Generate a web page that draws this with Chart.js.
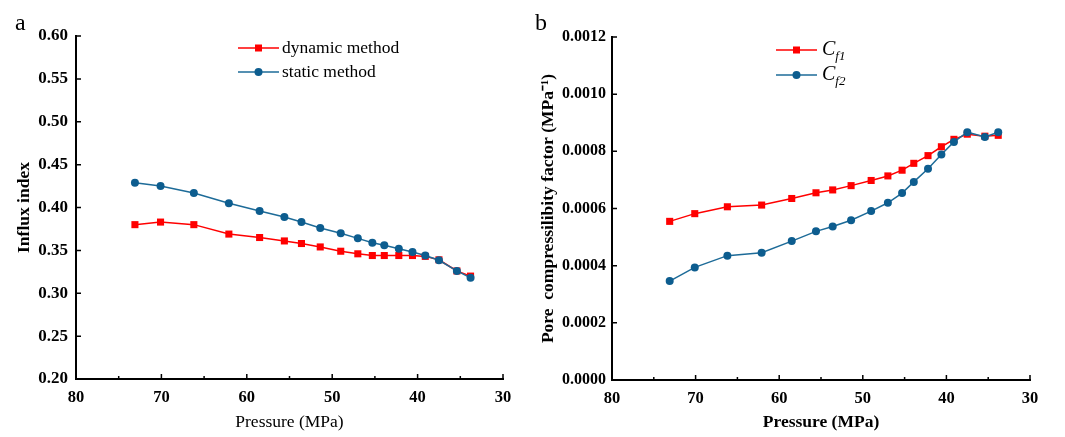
<!DOCTYPE html>
<html>
<head>
<meta charset="utf-8">
<script src="https://cdn.jsdelivr.net/npm/chart.js@4"></script>
<style>
  body { margin:0; background:#fff; }
  #wrap { position:relative; width:1065px; height:437px; }
  canvas { position:absolute; top:0; }
</style>
</head>
<body>
<div id="wrap">
  <canvas id="chartA" width="530" height="437" style="left:0"></canvas>
  <canvas id="chartB" width="535" height="437" style="left:530px"></canvas>
</div>
<script>
// data
const pressure = [73.1, 70.1, 66.2, 62.1, 58.5, 55.6, 53.6, 51.4, 49.0, 47.0, 45.3, 43.9, 42.2, 40.6, 39.1, 37.5, 35.4, 33.8];
const dynamicIdx = [0.380, 0.383, 0.380, 0.369, 0.365, 0.361, 0.358, 0.354, 0.349, 0.346, 0.344, 0.344, 0.344, 0.344, 0.343, 0.339, 0.326, 0.320];
const staticIdx = [0.429, 0.425, 0.417, 0.405, 0.396, 0.389, 0.383, 0.376, 0.370, 0.364, 0.359, 0.356, 0.352, 0.348, 0.344, 0.3385, 0.326, 0.318];
const cf1 = [0.000555, 0.000582, 0.000606, 0.000612, 0.000635, 0.000655, 0.000665, 0.000680, 0.000698, 0.000714, 0.000734, 0.000758, 0.000785, 0.000816, 0.000842, 0.000860, 0.000853, 0.000856];
const cf2 = [0.000346, 0.000394, 0.000435, 0.000445, 0.000486, 0.000520, 0.000537, 0.000559, 0.000591, 0.000620, 0.000654, 0.000693, 0.000739, 0.000789, 0.000833, 0.000867, 0.000850, 0.000867];
const xMinorTicks = [75, 65, 55, 45, 35];

const RED = '#ff0000';
const BLUE = '#1d6b98';
const BLUE_PT = '#0d5d8f';
const SERIF = '"Liberation Serif", "Times New Roman", serif';

const pts = ys => pressure.map((x, i) => ({ x: x, y: ys[i] }));

// inward ticks, legend, panel letter
const decor = {
  id: 'decor',
  afterDraw(chart, args, o) {
    const ctx = chart.ctx;
    const xs = chart.scales.x, ys = chart.scales.y;
    const ca = chart.chartArea;
    ctx.save();
    ctx.strokeStyle = '#000';
    ctx.lineWidth = 1.5;
    ctx.beginPath();
    xs.ticks.forEach(t => {
      const px = xs.getPixelForValue(t.value);
      ctx.moveTo(px, ca.bottom); ctx.lineTo(px, ca.bottom - 5);
    });
    xMinorTicks.forEach(v => {
      const px = xs.getPixelForValue(v);
      ctx.moveTo(px, ca.bottom); ctx.lineTo(px, ca.bottom - 3);
    });
    ys.ticks.forEach(t => {
      const py = ys.getPixelForValue(t.value);
      ctx.moveTo(ca.left, py); ctx.lineTo(ca.left + 5, py);
    });
    ctx.stroke();

    // panel letter
    ctx.fillStyle = '#000';
    ctx.font = '24px ' + SERIF;
    ctx.textBaseline = 'alphabetic';
    ctx.textAlign = 'left';
    ctx.fillText(o.letter, o.letterX, 30);

    // legend
    o.items.forEach((it, i) => {
      const y = o.legendY[i];
      ctx.strokeStyle = it.color;
      ctx.lineWidth = 1.5;
      ctx.beginPath();
      ctx.moveTo(o.legendX, y); ctx.lineTo(o.legendX + 41, y);
      ctx.stroke();
      ctx.fillStyle = it.pt;
      if (it.shape === 'rect') {
        ctx.fillRect(o.legendX + 20.5 - 3.5, y - 3.5, 7, 7);
      } else {
        ctx.beginPath(); ctx.arc(o.legendX + 20.5, y, 4, 0, Math.PI * 2); ctx.fill();
      }
      ctx.fillStyle = '#000';
      ctx.textBaseline = 'middle';
      if (it.sub) {
        ctx.font = 'italic 20px ' + SERIF;
        ctx.fillText(it.label, o.legendX + 46, y);
        const w = ctx.measureText(it.label).width;
        ctx.font = 'italic 13px ' + SERIF;
        ctx.fillText(it.sub, o.legendX + 46 + w, y + 7);
      } else {
        ctx.font = '17.5px ' + SERIF;
        ctx.fillText(it.label, o.legendX + 44, y);
      }
    });
    ctx.restore();
  }
};

function makeChart(id, cfg) {
  return new Chart(document.getElementById(id), {
    type: 'line',
    data: {
      datasets: [
        { data: pts(cfg.s2), borderColor: BLUE, backgroundColor: BLUE_PT, borderWidth: 1.5,
          pointStyle: 'circle', pointRadius: 4, pointBorderWidth: 0, tension: 0, order: 0 },
        { data: pts(cfg.s1), borderColor: RED, backgroundColor: RED, borderWidth: 1.5,
          pointStyle: 'rect', pointRadius: 5, pointBorderWidth: 0, tension: 0, order: 1 }
      ]
    },
    options: {
      responsive: false,
      animation: false,
      layout: { padding: cfg.pad },
      plugins: {
        legend: { display: false },
        tooltip: { enabled: false },
        decor: cfg.decor
      },
      scales: {
        x: {
          type: 'linear', reverse: true, min: 30, max: 80,
          afterFit: s => { s.height = cfg.xH; },
          border: { color: '#000', width: 2 },
          grid: { drawOnChartArea: false, drawTicks: false },
          ticks: { stepSize: 10, padding: 9, color: '#000', font: { family: SERIF, size: 16.5, weight: 'bold' } },
          title: { display: true, text: 'Pressure (MPa)', color: '#000', padding: { top: 6 },
                   font: { family: SERIF, size: 17.5, weight: cfg.xBold ? 'bold' : 'normal' } }
        },
        y: {
          min: cfg.yMin, max: cfg.yMax,
          afterFit: s => { s.width = cfg.yW; },
          border: { color: '#000', width: 2 },
          grid: { drawOnChartArea: false, drawTicks: false },
          ticks: { stepSize: cfg.yStep, padding: cfg.yPad, color: '#000',
                   font: { family: SERIF, size: cfg.yTickSize, weight: 'bold' },
                   callback: v => v.toFixed(cfg.dec) },
          title: { display: true, text: cfg.yTitle, color: '#000', padding: { top: cfg.yTitlePad },
                   font: { family: SERIF, size: 17.5, weight: 'bold' } }
        }
      }
    },
    plugins: [decor]
  });
}

makeChart('chartA', {
  s1: dynamicIdx, s2: staticIdx,
  pad: { left: 0, right: 27, top: 36, bottom: 0 },
  xH: 58, yW: 76, yPad: 8, yTickSize: 17, yMin: 0.2, yMax: 0.6, yStep: 0.05, dec: 2,
  yTitle: 'Influx index', yTitlePad: 14, xBold: false,
  decor: {
    letter: 'a', letterX: 15, legendX: 238, legendY: [48, 72],
    items: [
      { label: 'dynamic method', color: RED, pt: RED, shape: 'rect' },
      { label: 'static method', color: BLUE, pt: BLUE_PT, shape: 'circle' }
    ]
  }
});

makeChart('chartB', {
  s1: cf1, s2: cf2,
  pad: { left: 0, right: 35, top: 37, bottom: 0 },
  xH: 57, yW: 82, yPad: 6, yTickSize: 16, yMin: 0, yMax: 0.0012, yStep: 0.0002, dec: 4,
  yTitle: 'Pore  compressilibity factor (MPa⁻¹)', yTitlePad: 8, xBold: true,
  decor: {
    letter: 'b', letterX: 5, legendX: 246, legendY: [50, 75],
    items: [
      { label: 'C', sub: 'f1', color: RED, pt: RED, shape: 'rect' },
      { label: 'C', sub: 'f2', color: BLUE, pt: BLUE_PT, shape: 'circle' }
    ]
  }
});
</script>
</body>
</html>
